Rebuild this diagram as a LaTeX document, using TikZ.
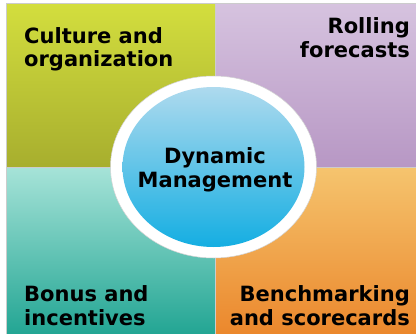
\documentclass[tikz,border=0pt]{standalone}
\usepackage{fontspec}
\setmainfont{DejaVu Sans}
\usepackage{tikz}
\usetikzlibrary{shapes}

\definecolor{greenTop}{HTML}{D3DE3E}
\definecolor{greenBot}{HTML}{A7AE2E}
\definecolor{lilacTop}{HTML}{D6C3DF}
\definecolor{lilacBot}{HTML}{B797C4}
\definecolor{tealTop}{HTML}{A6E3D8}
\definecolor{tealBot}{HTML}{22A593}
\definecolor{orangeTop}{HTML}{F5C46E}
\definecolor{orangeBot}{HTML}{EB872C}
\definecolor{blueTop}{HTML}{AEDAEE}
\definecolor{blueBot}{HTML}{14AEE2}

\begin{document}
\begin{tikzpicture}[x=1pt, y=1pt,
	quad/.style={rectangle, draw=gray!40, line width=0.6pt, inner sep=0pt, anchor=south west},
	label/.style={inner sep=0pt, font=\bfseries\fontsize{21}{24}\selectfont}]
		\useasboundingbox (0,0) rectangle (416,333);
		%Quadrants
		\node [quad, minimum width=209, minimum height=164, top color=greenTop, bottom color=greenBot] (q1) at (6,165) {};
		\node [quad, minimum width=205, minimum height=164, top color=lilacTop, bottom color=lilacBot] (q2) at (215,165) {};
		\node [quad, minimum width=209, minimum height=167, top color=tealTop, bottom color=tealBot] (q3) at (6,-2) {};
		\node [quad, minimum width=205, minimum height=167, top color=orangeTop, bottom color=orangeBot] (q4) at (215,-2) {};
		%Labels
		\node [label, anchor=base west, align=left] (culture) at (24,266) {Culture and\\organization};
		\node [label, anchor=base east, align=right] (rolling) at (410,276) {Rolling\\forecasts};
		\node [label, anchor=base west, align=left] (bonus) at (24,8) {Bonus and\\incentives};
		\node [label, anchor=base east, align=right] (bench) at (410,8) {Benchmarking\\and scorecards};
		%Centre
		\node [ellipse, draw=gray!35, line width=0.5pt, fill=white, minimum width=206, minimum height=182, inner sep=0pt] (ring) at (213.5,166) {};
		\node [ellipse, minimum width=182, minimum height=160, inner sep=0pt, top color=blueTop, bottom color=blueBot] (core) at (ring.center) {};
		\node [label, anchor=base, align=center] (dyn) at (215,146) {Dynamic\\Management};
\end{tikzpicture}
\end{document}
